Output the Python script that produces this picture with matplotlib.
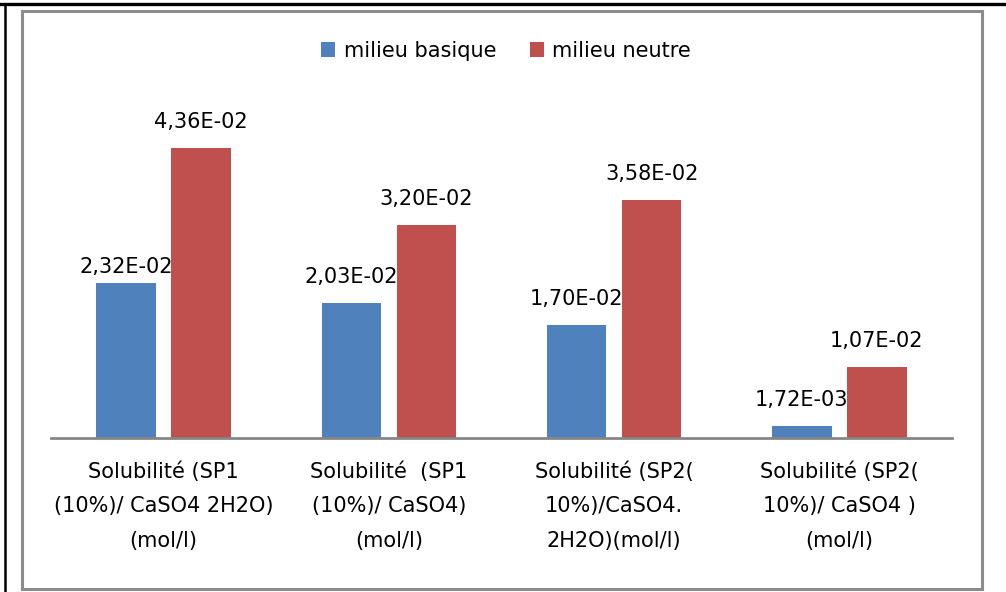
import matplotlib
matplotlib.use('agg')
import matplotlib.pyplot as plt
from matplotlib.patches import Rectangle
from matplotlib.lines import Line2D
import numpy as np

# Donnees
categories = [
    "Solubilité (SP1\n(10%)/ CaSO4 2H2O)\n(mol/l)",
    "Solubilité  (SP1\n(10%)/ CaSO4)\n(mol/l)",
    "Solubilité (SP2(\n10%)/CaSO4.\n2H2O)(mol/l)",
    "Solubilité (SP2(\n10%)/ CaSO4 )\n(mol/l)",
]
basique = [2.32e-02, 2.03e-02, 1.70e-02, 1.72e-03]
neutre = [4.36e-02, 3.20e-02, 3.58e-02, 1.07e-02]
labels_basique = ["2,32E-02", "2,03E-02", "1,70E-02", "1,72E-03"]
labels_neutre = ["4,36E-02", "3,20E-02", "3,58E-02", "1,07E-02"]

BLUE = '#4F81BD'
RED = '#C0504D'
GRAY = '#868686'

plt.rcParams['font.family'] = ['DejaVu Sans']
FS = 15

fig = plt.figure(figsize=(10.06, 5.92), dpi=100)
W, H = 1006, 592
ax = fig.add_axes([51 / W, 1 - 437.7 / H, 901 / W, 332.6 / H])

x = np.arange(len(categories))
bw = 0.264
off = 0.1665
ax.bar(x - off, basique, bw, color=BLUE, label='milieu basique')
ax.bar(x + off, neutre, bw, color=RED, label='milieu neutre')

# etiquettes de donnees (la premiere bleue est plus basse dans l'original)
lift_b = [10, 20, 20, 20]
for i in range(len(x)):
    ax.annotate(labels_basique[i], (x[i] - off, basique[i]), xytext=(0, lift_b[i]),
                textcoords='offset pixels', ha='center', va='baseline', fontsize=FS)
    ax.annotate(labels_neutre[i], (x[i] + off, neutre[i]), xytext=(0, 20),
                textcoords='offset pixels', ha='center', va='baseline', fontsize=FS)

ax.set_xlim(-0.5, len(categories) - 0.5)
ax.set_ylim(0, 0.05)
ax.set_yticks([])
ax.set_xticks(x)
ax.set_xticklabels(categories, fontsize=FS)
for lab in ax.get_xticklabels():
    lab.set_linespacing(1.9)
ax.tick_params(axis='x', length=0, pad=17)
for s in ['top', 'right', 'left']:
    ax.spines[s].set_visible(False)
ax.spines['bottom'].set_color(GRAY)
ax.spines['bottom'].set_linewidth(2)

fig.legend(loc='center', bbox_to_anchor=(506 / W, 1 - 51 / H), ncol=2, frameon=False,
           fontsize=FS, handlelength=0.7, handleheight=0.7, handletextpad=0.4,
           columnspacing=1.6)

# cadre du graphique et traits noirs de la page
fig.patches.append(Rectangle((22 / W, 1 - 589 / H), 960 / W, 578 / H, transform=fig.transFigure,
                             fill=False, edgecolor='#8C8C8C', linewidth=2.2))
fig.lines.append(Line2D([0, 1], [1 - 3.5 / H, 1 - 3.5 / H], transform=fig.transFigure,
                        color='black', linewidth=2.4))
fig.lines.append(Line2D([5 / W, 5 / W], [0, 1 - 3.5 / H], transform=fig.transFigure,
                        color='black', linewidth=1.8))

fig.savefig('out.png', dpi=100)
